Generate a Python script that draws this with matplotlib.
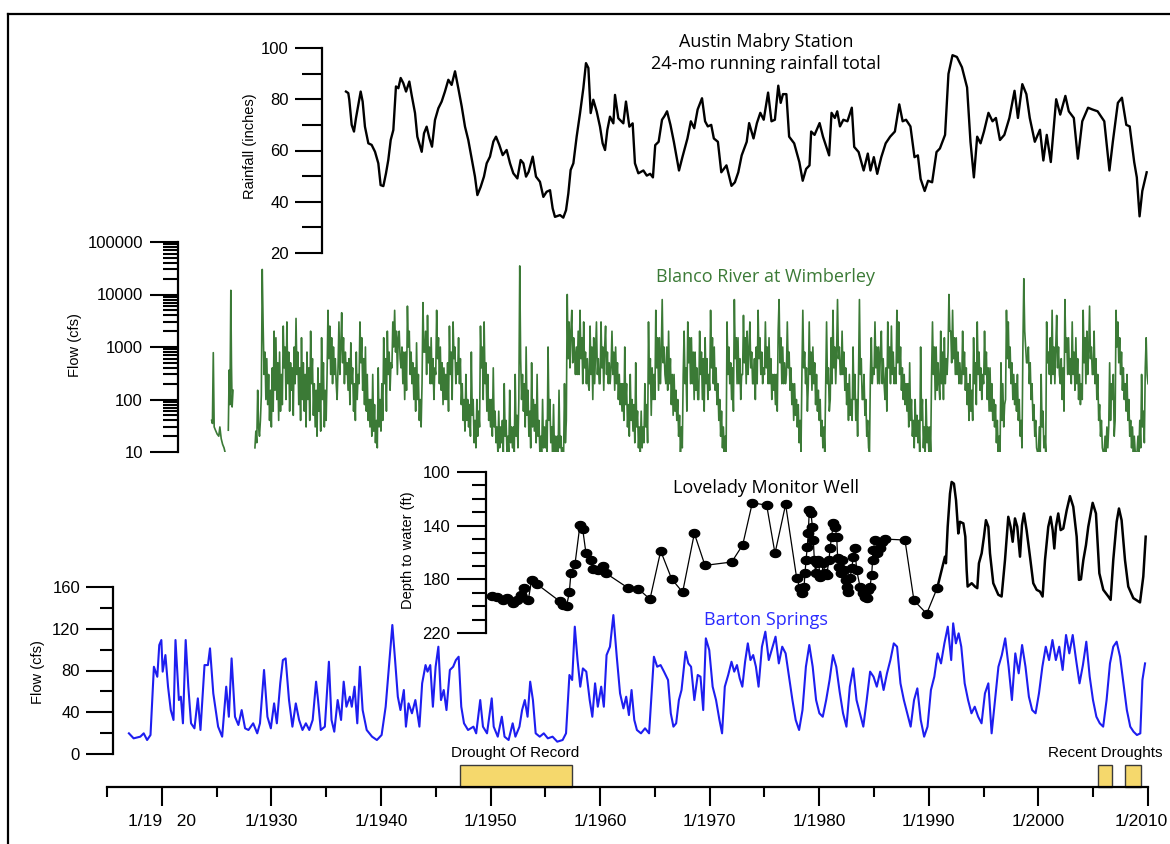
import numpy as np
import matplotlib
matplotlib.use("Agg")
import matplotlib.pyplot as plt
from matplotlib.ticker import FixedLocator, NullFormatter, LogLocator
from matplotlib.path import Path
from matplotlib.transforms import ScaledTranslation

# ---------------- data ----------------
rain_years = [1936.81, 1937.02, 1937.11, 1937.33, 1937.54, 1937.72, 1937.94, 1938.15, 1938.33, 1938.54,
              1938.85, 1939.15, 1939.46, 1939.76, 1939.97, 1940.22, 1940.46, 1940.67, 1940.89, 1941.13,
              1941.37, 1941.59, 1941.80, 1942.04, 1942.29, 1942.59, 1942.80, 1943.11, 1943.32, 1943.50,
              1943.72, 1943.93, 1944.17, 1944.42, 1944.66, 1944.93, 1945.24, 1945.54, 1945.84, 1946.15,
              1946.45, 1946.76, 1947.06, 1947.37, 1947.67, 1947.97, 1948.28, 1948.58, 1948.80, 1949.10,
              1949.40, 1949.65, 1949.95, 1950.26, 1950.50, 1950.80, 1951.11, 1951.47, 1951.78, 1952.08,
              1952.45, 1952.75, 1953.00, 1953.24, 1953.48, 1953.85, 1954.15, 1954.51, 1954.82, 1955.12,
              1955.43, 1955.67, 1955.88, 1956.34, 1956.64, 1956.89, 1957.10, 1957.31, 1957.56, 1957.86,
              1958.17, 1958.47, 1958.71, 1958.93, 1959.14, 1959.38, 1959.69, 1959.99, 1960.23, 1960.45,
              1960.66, 1960.90, 1961.21, 1961.36, 1961.66, 1962.12, 1962.36, 1962.67, 1962.97, 1963.18,
              1963.49, 1963.95, 1964.26, 1964.57, 1964.82, 1965.03, 1965.34, 1965.65, 1965.87, 1966.11,
              1966.42, 1966.73, 1967.20, 1967.51, 1967.97, 1968.28, 1968.59, 1968.90, 1969.30, 1969.58,
              1969.83, 1970.14, 1970.38, 1970.75, 1971.06, 1971.53, 1971.99, 1972.30, 1972.61, 1972.92,
              1973.38, 1973.60, 1974.00, 1974.31, 1974.62, 1974.93, 1975.33, 1975.64, 1975.95, 1976.26,
              1976.48, 1976.69, 1977.00, 1977.25, 1977.71, 1978.18, 1978.49, 1978.80, 1979.11, 1979.26,
              1979.57, 1980.03, 1980.34, 1980.90, 1981.12, 1981.42, 1981.64, 1981.89, 1982.20, 1982.57,
              1982.97, 1983.19, 1983.59, 1984.05, 1984.43, 1984.67, 1984.98, 1985.29, 1985.66, 1986.06,
              1986.47, 1986.90, 1987.30, 1987.61, 1987.92, 1988.32, 1988.69, 1989.00, 1989.25, 1989.62,
              1989.93, 1990.30, 1990.70, 1991.01, 1991.48, 1991.79, 1992.16, 1992.56, 1993.02, 1993.49,
              1993.80, 1994.11, 1994.41, 1994.72, 1995.03, 1995.44, 1995.81, 1996.12, 1996.49, 1996.89,
              1997.35, 1997.82, 1998.13, 1998.53, 1998.90, 1999.21, 1999.67, 2000.14, 2000.45, 2000.76,
              2001.13, 2001.62, 2001.99, 2002.46, 2002.77, 2003.23, 2003.60, 2004.00, 2004.53, 2004.93,
              2005.40, 2006.01, 2006.48, 2006.79, 2007.25, 2007.62, 2008.02, 2008.33, 2008.74, 2008.98,
              2009.23, 2009.48, 2009.88]
rain_inches = [83.0, 82.4, 79.8, 70.0, 67.4, 72.6, 77.8, 83.0, 79.1, 69.3,
               62.8, 62.2, 59.5, 55.0, 46.5, 46.1, 51.1, 56.3, 64.1, 68.0,
               85.0, 84.3, 88.3, 86.3, 83.0, 86.9, 81.7, 74.6, 65.4, 62.8,
               59.5, 66.7, 69.3, 64.8, 61.5, 71.9, 76.5, 79.1, 83.0, 87.6,
               85.6, 90.9, 84.3, 77.2, 69.3, 64.1, 56.9, 49.8, 42.6, 45.8,
               49.8, 55.0, 57.6, 63.5, 65.4, 62.2, 58.2, 60.2, 55.0, 51.1,
               49.1, 56.3, 55.0, 49.8, 51.7, 57.6, 49.8, 47.8, 41.9, 43.9,
               44.5, 37.4, 34.1, 34.8, 33.8, 36.7, 43.2, 52.4, 55.0, 65.4,
               74.6, 84.3, 94.1, 92.2, 74.6, 79.8, 75.2, 69.3, 62.8, 60.2,
               68.0, 73.2, 70.6, 81.7, 72.6, 70.6, 79.1, 69.3, 70.6, 55.0,
               51.1, 52.2, 50.2, 50.9, 49.5, 62.1, 63.4, 72.0, 73.4, 75.3,
               70.0, 63.4, 52.2, 57.4, 64.7, 71.4, 68.7, 76.0, 80.4, 71.4,
               69.4, 70.0, 64.7, 63.4, 51.5, 54.2, 46.2, 47.6, 51.5, 58.1,
               63.4, 70.7, 64.7, 70.7, 74.7, 72.0, 82.6, 71.4, 72.0, 85.3,
               78.6, 82.0, 82.0, 65.4, 62.8, 55.5, 48.2, 52.8, 54.2, 67.4,
               66.1, 70.7, 65.4, 58.1, 74.7, 72.7, 75.3, 69.4, 72.0, 71.4,
               76.7, 61.4, 59.4, 52.2, 58.8, 52.2, 57.4, 50.9, 57.4, 62.8,
               65.4, 67.4, 78.0, 71.4, 72.0, 69.4, 57.4, 58.1, 48.9, 44.2,
               48.2, 47.6, 59.4, 60.8, 66.1, 89.9, 97.2, 96.5, 92.5, 84.6,
               63.4, 49.5, 65.4, 62.8, 67.4, 74.7, 71.4, 72.7, 64.1, 66.1,
               72.7, 83.3, 72.7, 85.9, 82.0, 72.7, 63.4, 68.1, 56.1, 66.1,
               55.5, 80.0, 74.0, 81.3, 75.3, 72.7, 56.8, 71.4, 76.7, 76.0,
               75.3, 71.4, 52.2, 63.4, 78.6, 80.6, 70.0, 69.4, 55.5, 49.5,
               34.3, 44.2, 51.5]

blanco_early_years = [1924.55, 1924.62, 1924.70, 1924.78, 1924.90, 1925.05, 1925.20, 1925.30, 1925.42,
                      1925.55, 1925.68, 1925.77, np.nan, 1926.07, 1926.15, 1926.22, 1926.30, 1926.36,
                      1926.42, 1926.50]
blanco_early_flow = [40, 35, 780, 30, 26, 22, 20, 30, 18, 14, 12, 10, np.nan, 26, 365, 80, 12000, 450,
                     72, 150]

BLANCO_START = 1928.5   # first month of the continuous record; monthly values follow
blanco_flow = [
    12, 25, 15, 150, 30, 20,                                          # 1928 (Jul-Dec)
    40, 120, 30000, 2500, 300, 800, 100, 600, 80, 300, 40, 150,       # 1929
    30, 400, 60, 2000, 150, 1500, 100, 500, 40, 800, 60, 300,         # 1930
    80, 2500, 400, 1000, 100, 3000, 200, 800, 60, 500, 150, 400,      # 1931
    50, 1000, 200, 3500, 300, 800, 80, 400, 40, 1500, 100, 500,       # 1932
    60, 300, 30, 800, 100, 400, 40, 2000, 200, 600, 50, 200,          # 1933
    30, 150, 20, 400, 60, 200, 25, 1500, 100, 500, 30, 150,           # 1934
    40, 300, 5000, 600, 2500, 300, 1500, 200, 1000, 300, 600, 200,    # 1935
    100, 400, 3000, 300, 1000, 4500, 500, 1500, 200, 800, 300, 500,   # 1936
    150, 600, 80, 1200, 200, 400, 60, 200, 40, 800, 100, 300,         # 1937
    200, 3000, 500, 1500, 150, 600, 80, 1000, 60, 300, 40, 100,       # 1938
    30, 100, 20, 300, 25, 80, 15, 40, 12, 400, 30, 100,               # 1939
    25, 200, 40, 1500, 200, 600, 60, 2000, 300, 800, 150, 500,        # 1940
    400, 3000, 1000, 5000, 800, 2000, 300, 1500, 2000, 600, 400, 1000,  # 1941
    200, 800, 100, 800, 150, 6000, 1000, 2000, 300, 800, 200, 500,    # 1942
    100, 400, 60, 1200, 100, 300, 40, 100, 30, 200, 7000, 800,        # 1943
    800, 2000, 300, 4000, 500, 1000, 200, 1500, 200, 600, 100, 400,   # 1944
    300, 5000, 600, 1500, 200, 1000, 150, 500, 80, 400, 100, 300,     # 1945
    100, 500, 60, 2500, 300, 800, 100, 3000, 600, 1000, 200, 500,     # 1946
    300, 1500, 200, 600, 80, 200, 40, 100, 25, 300, 40, 100,          # 1947
    30, 80, 20, 800, 50, 100, 15, 40, 12, 100, 20, 60,                # 1948
    30, 2500, 400, 1000, 100, 3000, 200, 500, 60, 300, 40, 100,       # 1949
    30, 100, 20, 400, 30, 60, 15, 30, 10, 60, 12, 30,                 # 1950
    15, 40, 10, 200, 20, 40, 10, 20, 8, 150, 15, 30,                  # 1951
    12, 30, 10, 300, 20, 50, 12, 100, 35000, 600, 100, 300,           # 1952
    60, 200, 30, 1000, 50, 150, 20, 60, 12, 500, 30, 100,             # 1953
    25, 80, 15, 300, 20, 40, 10, 20, 8, 100, 12, 30,                  # 1954
    12, 40, 10, 1000, 40, 100, 15, 30, 10, 80, 10, 20,                # 1955
    10, 20, 8, 150, 12, 20, 8, 12, 8, 200, 15, 40,                    # 1956
    10000, 600, 3000, 400, 2000, 5000, 500, 1500, 800, 300, 1000, 300,  # 1957
    2000, 300, 5000, 600, 1500, 200, 3000, 400, 800, 200, 600, 200,   # 1958
    150, 2500, 300, 1000, 100, 1500, 200, 800, 3000, 300, 600, 200,   # 1959
    200, 3000, 400, 1000, 150, 1000, 2500, 300, 800, 200, 500, 200,   # 1960
    400, 2000, 300, 800, 150, 1000, 200, 500, 100, 300, 80, 200,      # 1961
    60, 200, 40, 1000, 80, 200, 30, 80, 20, 300, 40, 100,             # 1962
    25, 80, 15, 500, 30, 60, 12, 30, 10, 60, 12, 30,                  # 1963
    15, 200, 30, 80, 15, 3000, 200, 600, 50, 400, 100, 300,           # 1964
    100, 5000, 400, 1500, 150, 1500, 200, 800, 8000, 500, 1000, 300,  # 1965
    200, 1000, 150, 2000, 200, 600, 80, 300, 50, 300, 60, 150,        # 1966
    40, 100, 20, 50, 10, 30, 12, 300, 2000, 200, 400, 60,             # 1967
    3000, 500, 1500, 200, 1500, 200, 800, 100, 800, 150, 400, 100,    # 1968
    100, 2000, 300, 800, 100, 600, 60, 1500, 200, 600, 100, 300,      # 1969
    150, 5000, 400, 1500, 200, 1000, 150, 400, 80, 200, 40, 100,      # 1970
    20, 60, 12, 30, 10, 20, 10, 3000, 300, 1000, 200, 500,            # 1971
    100, 400, 60, 8000, 600, 1500, 200, 1500, 200, 600, 100, 300,     # 1972
    300, 4000, 500, 1500, 200, 2000, 300, 800, 3000, 400, 800, 200,   # 1973
    200, 600, 100, 1000, 200, 5000, 600, 1500, 300, 800, 200, 400,    # 1974
    300, 3000, 400, 1000, 200, 1500, 200, 600, 100, 300, 150, 300,    # 1975
    80, 300, 60, 2000, 8000, 500, 1500, 200, 1000, 200, 500, 200,     # 1976
    300, 3000, 400, 800, 150, 400, 80, 200, 40, 200, 50, 100,         # 1977
    30, 80, 15, 40, 10, 300, 5000, 400, 800, 200, 400, 60,            # 1978
    200, 3000, 300, 800, 150, 1000, 200, 500, 80, 300, 60, 150,       # 1979
    40, 100, 20, 40, 12, 30, 10, 200, 3000, 200, 400, 60,             # 1980
    100, 1500, 200, 5000, 400, 1000, 200, 800, 8000, 600, 1000, 300,  # 1981
    300, 2000, 300, 800, 150, 400, 80, 200, 40, 300, 50, 100,         # 1982
    40, 1000, 100, 300, 40, 100, 20, 300, 8000, 300, 600, 100,        # 1983
    100, 300, 50, 100, 20, 40, 12, 10, 300, 1500, 200, 400,           # 1984
    300, 3000, 400, 1000, 200, 1000, 200, 800, 2000, 200, 600, 200,   # 1985
    100, 400, 60, 3000, 400, 1000, 200, 2500, 300, 800, 200, 400,     # 1986
    200, 5000, 500, 3000, 300, 1000, 150, 400, 100, 300, 80, 200,     # 1987
    60, 200, 30, 500, 40, 100, 20, 40, 12, 100, 20, 50,               # 1988
    15, 40, 10, 1000, 40, 100, 12, 30, 10, 100, 15, 30,               # 1989
    10, 30, 10, 300, 3000, 300, 1000, 100, 1000, 150, 500, 200,       # 1990
    100, 2000, 200, 800, 100, 1500, 200, 600, 300, 800, 10000, 2000,  # 1991
    2000, 500, 5000, 600, 1500, 300, 1500, 300, 800, 200, 500, 200,   # 1992
    200, 2000, 300, 800, 150, 400, 80, 200, 40, 300, 60, 150,         # 1993
    40, 1500, 200, 500, 80, 3000, 300, 800, 150, 400, 100, 300,       # 1994
    200, 2000, 300, 800, 100, 400, 60, 400, 60, 200, 40, 100,         # 1995
    30, 80, 15, 40, 10, 20, 10, 500, 40, 200, 30, 80,                 # 1996
    100, 5000, 600, 3000, 400, 1000, 200, 500, 100, 300, 80, 200,     # 1997
    60, 300, 40, 100, 20, 40, 12, 1000, 20000, 2000, 1000, 500,       # 1998
    500, 1000, 200, 500, 100, 200, 40, 80, 20, 40, 12, 10,            # 1999
    10, 30, 10, 300, 30, 60, 12, 20, 10, 3000, 500, 800,              # 2000
    300, 1500, 200, 5000, 300, 1000, 200, 1000, 4000, 400, 1000, 300,  # 2001
    200, 600, 100, 400, 60, 8000, 800, 1500, 300, 1500, 300, 600,     # 2002
    200, 3000, 300, 800, 150, 1500, 200, 600, 100, 300, 80, 200,      # 2003
    100, 5000, 500, 1500, 200, 2000, 300, 800, 6000, 600, 1000, 300,  # 2004
    300, 2000, 200, 600, 100, 300, 40, 80, 20, 40, 12, 10,            # 2005
    10, 20, 10, 30, 12, 30, 500, 40, 200, 100, 300, 20,               # 2006
    40, 5000, 1000, 3000, 500, 1500, 300, 800, 150, 400, 100, 200,    # 2007
    60, 300, 40, 100, 20, 40, 12, 30, 10, 20, 10, 10,                 # 2008
    10, 20, 10, 40, 12, 300, 30, 60, 15, 400, 1500, 300,              # 2009
    200,                                                              # 2010
]

well_manual_years = [1950.11, 1950.56, 1951.10, 1951.53, 1952.02, 1952.38, 1952.75, 1953.08, 1953.45,
                     1953.75, 1954.21, 1956.34, 1956.58, 1956.95, 1957.19, 1957.34, 1957.71, 1958.16,
                     1958.41, 1958.71, 1959.17, 1959.32, 1959.84, 1960.24, 1960.54, 1962.58, 1963.49,
                     1964.55, 1965.53, 1966.53, 1967.53, 1968.60, 1969.57, 1972.01, 1973.01, 1973.89,
                     1975.20, 1975.96, 1976.93, 1977.94, 1978.24, 1978.39, 1978.61, 1978.70, 1978.79,
                     1978.91, 1979.00, 1979.09, 1979.25, 1979.37, 1979.46, 1979.55, 1979.67, 1979.76,
                     1979.92, 1980.07, 1980.22, 1980.37, 1980.52, 1980.68, 1980.89, 1980.98, 1981.13,
                     1981.28, 1981.44, 1981.59, 1981.68, 1981.83, 1981.95, 1982.11, 1982.26, 1982.44,
                     1982.56, 1982.65, 1982.81, 1982.96, 1983.11, 1983.26, 1983.41, 1983.72, 1984.02,
                     1984.17, 1984.33, 1984.48, 1984.63, 1984.78, 1984.87, 1984.93, 1985.09, 1985.30,
                     1985.54, 1985.69, 1986.00, 1987.82, 1988.64, 1989.80, 1990.77]
well_manual_depth = [192.3, 193.3, 195.3, 194.0, 197.7, 195.3, 191.5, 186.1, 195.3,
                     180.4, 183.4, 196.5, 199.0, 199.7, 189.6, 175.0, 168.5, 139.6,
                     142.5, 160.6, 165.6, 172.5, 173.0, 170.0, 175.5, 186.6, 187.1,
                     194.8, 158.9, 179.7, 189.6, 145.8, 169.6, 167.1, 154.4, 123.0,
                     124.7, 160.6, 124.2, 179.2, 186.6, 190.3, 185.4, 175.5, 165.6,
                     155.7, 145.3, 128.5, 130.9, 140.8, 150.7, 165.6, 175.5, 168.1,
                     165.6, 178.0, 176.7, 168.1, 175.5, 176.7, 165.6, 157.0, 148.2,
                     138.3, 140.8, 148.2, 164.4, 170.5, 175.5, 165.6, 173.0, 180.4,
                     185.4, 189.1, 179.2, 171.8, 163.1, 156.9, 173.0, 185.4, 190.3,
                     192.8, 194.0, 187.8, 185.4, 176.7, 165.6, 158.2, 150.7, 160.6,
                     156.9, 152.0, 150.0, 150.7, 195.7, 205.6, 186.3]

well_recorder_years = [1990.77, 1991.47, 1991.56, 1991.72, 1991.93, 1992.08, 1992.29, 1992.48, 1992.69,
                       1992.84, 1993.15, 1993.33, 1993.45, 1993.54, 1993.91, 1994.21, 1994.42, 1994.57,
                       1994.82, 1995.03, 1995.21, 1995.43, 1995.58, 1995.88, 1996.34, 1996.64, 1996.95,
                       1997.25, 1997.46, 1997.65, 1997.86, 1998.07, 1998.32, 1998.50, 1998.68, 1998.92,
                       1999.23, 1999.53, 1999.84, 2000.14, 2000.38, 2000.60, 2000.90, 2001.11, 2001.30,
                       2001.45, 2001.60, 2001.81, 2002.03, 2002.27, 2002.58, 2002.88, 2003.18, 2003.49,
                       2003.70, 2003.88, 2004.10, 2004.34, 2004.55, 2004.95, 2005.25, 2005.56, 2005.92,
                       2006.38, 2006.59, 2006.83, 2007.14, 2007.35, 2007.59, 2007.90, 2008.20, 2008.66,
                       2009.27, 2009.57, 2009.79]
well_recorder_depth = [186.3, 163.1, 168.0, 140.8, 116.1, 107.4, 108.7, 121.0, 145.8,
                       137.1, 138.3, 148.2, 173.0, 185.4, 182.9, 185.4, 186.6, 168.0,
                       160.6, 148.2, 135.9, 140.8, 160.6, 182.9, 191.5, 192.8, 165.6,
                       133.4, 140.8, 152.0, 134.6, 140.8, 163.1, 139.6, 130.9, 143.3,
                       163.1, 182.9, 187.8, 189.1, 192.8, 165.6, 140.8, 133.4, 143.3,
                       157.0, 140.8, 130.9, 143.3, 142.1, 128.5, 118.0, 125.9, 148.2,
                       180.4, 180.0, 165.6, 154.4, 140.8, 123.0, 130.9, 175.5, 187.8,
                       192.8, 195.3, 165.6, 137.1, 127.2, 135.9, 165.6, 185.4, 194.0,
                       197.2, 177.9, 148.2]

barton_years = [1917.00, 1917.43, 1918.04, 1918.35, 1918.66, 1918.97, 1919.28, 1919.59, 1919.77, 1919.96,
                1920.08, 1920.33, 1920.57, 1920.82, 1921.07, 1921.25, 1921.56, 1921.74, 1921.93, 1922.18,
                1922.42, 1922.67, 1922.98, 1923.29, 1923.53, 1923.90, 1924.21, 1924.40, 1924.70, 1925.14,
                1925.51, 1925.88, 1926.12, 1926.37, 1926.68, 1926.99, 1927.29, 1927.60, 1927.91, 1928.34,
                1928.71, 1928.96, 1929.33, 1929.64, 1929.95, 1930.25, 1930.50, 1930.81, 1931.05, 1931.30,
                1931.61, 1931.92, 1932.23, 1932.53, 1932.84, 1933.15, 1933.46, 1933.77, 1934.08, 1934.26,
                1934.51, 1934.88, 1935.25, 1935.49, 1935.74, 1936.05, 1936.36, 1936.60, 1936.85, 1937.16,
                1937.34, 1937.59, 1937.84, 1938.08, 1938.33, 1938.70, 1939.19, 1939.63, 1940.06, 1940.43,
                1940.67, 1941.04, 1941.29, 1941.54, 1941.78, 1942.09, 1942.28, 1942.52, 1942.83, 1943.14,
                1943.51, 1943.76, 1944.07, 1944.25, 1944.50, 1944.74, 1944.99, 1945.24, 1945.48, 1945.73,
                1945.98, 1946.29, 1946.59, 1946.84, 1947.09, 1947.33, 1947.58, 1947.95, 1948.44, 1948.69,
                1949.06, 1949.31, 1949.68, 1950.11, 1950.29, 1950.66, 1951.03, 1951.28, 1951.65, 1952.02,
                1952.27, 1952.64, 1952.88, 1953.13, 1953.38, 1953.62, 1953.87, 1954.12, 1954.49, 1954.86,
                1955.23, 1955.66, 1956.09, 1956.58, 1956.89, 1957.20, 1957.45, 1957.69, 1957.94, 1958.19,
                1958.43, 1958.74, 1959.05, 1959.29, 1959.54, 1959.79, 1960.10, 1960.34, 1960.59, 1960.90,
                1961.21, 1961.52, 1961.82, 1962.13, 1962.38, 1962.63, 1962.87, 1963.12, 1963.36, 1963.73,
                1964.10, 1964.47, 1964.91, 1965.21, 1965.52, 1965.83, 1966.20, 1966.45, 1966.69, 1966.94,
                1967.19, 1967.43, 1967.80, 1968.05, 1968.30, 1968.60, 1968.91, 1969.16, 1969.41, 1969.65,
                1969.96, 1970.27, 1970.58, 1970.89, 1971.13, 1971.38, 1971.69, 1971.99, 1972.24, 1972.49,
                1972.74, 1972.98, 1973.23, 1973.48, 1973.72, 1973.97, 1974.22, 1974.46, 1974.77, 1975.08,
                1975.39, 1975.70, 1976.01, 1976.31, 1976.62, 1976.93, 1977.24, 1977.55, 1977.85, 1978.16,
                1978.47, 1978.78, 1979.09, 1979.40, 1979.71, 1980.01, 1980.32, 1980.63, 1980.94, 1981.25,
                1981.55, 1981.86, 1982.17, 1982.48, 1982.79, 1983.10, 1983.40, 1983.71, 1984.02, 1984.33,
                1984.64, 1984.95, 1985.25, 1985.56, 1985.87, 1986.18, 1986.49, 1986.80, 1987.10, 1987.41,
                1987.72, 1988.03, 1988.34, 1988.65, 1988.95, 1989.26, 1989.57, 1989.88, 1990.19, 1990.50,
                1990.80, 1991.11, 1991.42, 1991.73, 1992.04, 1992.22, 1992.47, 1992.72, 1992.96, 1993.27,
                1993.58, 1993.89, 1994.19, 1994.50, 1994.81, 1995.12, 1995.43, 1995.73, 1996.04, 1996.35,
                1996.66, 1996.97, 1997.28, 1997.58, 1997.89, 1998.20, 1998.51, 1998.82, 1999.13, 1999.43,
                1999.74, 2000.05, 2000.36, 2000.67, 2000.97, 2001.28, 2001.59, 2001.90, 2002.21, 2002.52,
                2002.82, 2003.13, 2003.44, 2003.75, 2004.06, 2004.37, 2004.68, 2004.98, 2005.29, 2005.60,
                2005.91, 2006.22, 2006.53, 2006.83, 2007.14, 2007.45, 2007.76, 2008.07, 2008.38, 2008.68,
                2008.99, 2009.30, 2009.49, 2009.73]
barton_cfs = [19.8, 15.0, 16.6, 19.8, 13.4, 18.2, 83.6, 74.0, 104.4, 109.2,
              78.9, 94.8, 64.5, 42.1, 32.6, 109.2, 51.7, 54.9, 29.4, 109.2,
              64.5, 29.4, 24.6, 53.3, 23.0, 85.2, 85.2, 101.2, 58.1, 26.2,
              16.6, 64.5, 35.7, 91.6, 35.7, 27.8, 42.1, 24.6, 23.0, 29.4,
              19.8, 29.4, 80.5, 35.7, 24.6, 48.5, 29.4, 67.7, 90.0, 91.6,
              51.7, 26.2, 48.5, 32.6, 23.0, 29.4, 23.0, 32.6, 69.3, 51.7,
              23.0, 26.2, 88.4, 32.6, 21.4, 51.7, 32.6, 69.3, 45.3, 54.9,
              45.3, 64.5, 29.4, 83.6, 42.1, 23.0, 16.6, 13.4, 18.2, 45.3,
              75.7, 123.6, 90.0, 54.9, 42.1, 61.3, 26.2, 48.5, 39.0, 51.7,
              26.2, 67.7, 85.2, 78.9, 85.2, 45.3, 83.6, 102.8, 51.7, 61.3,
              42.1, 80.5, 83.6, 90.0, 93.2, 45.3, 29.4, 23.0, 26.2, 19.8,
              51.7, 26.2, 19.8, 53.3, 26.2, 16.6, 35.7, 16.6, 13.4, 29.4,
              16.6, 26.2, 42.1, 51.7, 35.7, 69.3, 51.7, 19.8, 16.6, 19.8,
              15.0, 16.6, 11.8, 13.4, 19.8, 75.7, 70.9, 122.0, 90.0, 64.5,
              82.0, 78.9, 51.7, 35.7, 67.7, 45.3, 64.5, 45.3, 94.8, 102.8,
              133.1, 93.2, 58.1, 43.7, 54.9, 37.3, 61.3, 32.6, 23.0, 19.8,
              24.6, 19.8, 93.2, 83.6, 85.2, 78.9, 70.9, 39.0, 26.2, 29.4,
              51.7, 61.3, 98.0, 86.8, 83.6, 51.7, 75.7, 74.1, 42.1, 110.8,
              99.6, 64.5, 51.7, 32.6, 19.8, 64.5, 75.7, 88.4, 78.9, 85.2,
              72.5, 64.5, 88.4, 106.0, 90.0, 94.8, 83.6, 64.5, 102.8, 117.2,
              90.0, 101.2, 112.4, 86.8, 102.8, 96.4, 74.1, 51.7, 32.6, 23.0,
              42.1, 83.6, 104.4, 83.6, 51.7, 39.0, 35.7, 51.7, 70.9, 94.8,
              83.6, 59.7, 39.0, 26.2, 64.5, 82.0, 51.7, 39.0, 26.2, 51.7,
              78.9, 74.1, 64.5, 78.9, 61.3, 77.3, 90.0, 106.0, 102.8, 67.7,
              51.7, 39.0, 26.2, 51.7, 62.9, 32.6, 16.6, 26.2, 61.3, 74.1,
              96.4, 86.8, 106.0, 122.0, 90.0, 125.2, 106.0, 115.6, 102.8, 67.7,
              51.7, 39.0, 45.3, 35.7, 29.4, 58.1, 67.7, 19.8, 51.7, 83.6,
              94.8, 110.8, 83.6, 51.7, 96.4, 77.3, 104.4, 83.6, 54.9, 42.1,
              39.0, 58.1, 83.6, 102.8, 90.0, 109.2, 90.0, 102.8, 80.5, 114.0,
              96.4, 114.0, 90.0, 67.7, 85.2, 107.6, 74.1, 51.7, 35.7, 29.4,
              26.2, 51.7, 86.8, 102.8, 107.6, 93.2, 67.7, 42.1, 26.2, 21.4,
              18.2, 19.8, 70.9, 86.8]

drought_start = [1947.2, 2005.4, 2007.9]
drought_end = [1957.4, 2006.7, 2009.4]
drought_labels = ["Drought Of Record", "Recent Droughts"]

year_ticks = [1920, 1930, 1940, 1950, 1960, 1970, 1980, 1990, 2000, 2010]
year_labels = ["1/19   20", "1/1930", "1/1940", "1/1950", "1/1960", "1/1970",
               "1/1980", "1/1990", "1/2000", "1/2010"]
year_minor = [1915, 1925, 1935, 1945, 1955, 1965, 1975, 1985, 1995, 2005]

# ---------------- layout helpers ----------------
plt.rcParams['font.family'] = ['Liberation Sans', 'DejaVu Sans']
WPX, HPX = 1170, 844
PT = 0.72  # points per pixel at dpi 100
fig = plt.figure(figsize=(WPX / 100, HPX / 100), dpi=100)
fig.patch.set_facecolor('white')

AX_L, AX_R = 107, 1148
X0, X1 = 1915, 2010


def fx(x):
    return x / WPX


def fy(y):
    return 1 - y / HPX


def panel(top, bottom, spine_px):
    ax = fig.add_axes([fx(AX_L), fy(bottom), (AX_R - AX_L) / WPX, (bottom - top) / HPX])
    ax.patch.set_visible(False)
    for s in ['top', 'right', 'bottom']:
        ax.spines[s].set_visible(False)
    ax.spines['left'].set_position(('axes', (spine_px - AX_L) / (AX_R - AX_L)))
    ax.spines['left'].set_linewidth(1.6)
    ax.set_xlim(X0, X1)
    ax.set_xticks([])
    return ax


def ticks(ax, major_len, minor_len, pad):
    ax.tick_params(axis='y', which='major', length=major_len * PT, width=1.5, pad=pad * PT,
                   labelsize=12, colors='black')
    ax.tick_params(axis='y', which='minor', length=minor_len * PT, width=1.5)


TFONT = ['Open Sans', 'DejaVu Sans']
TSIZE = 13

# frame lines
fig.add_artist(plt.Line2D([fx(7.5), fx(7.5)], [fy(14), 0], color='black', lw=1.6))
fig.add_artist(plt.Line2D([fx(7.5), 1], [fy(14), fy(14)], color='black', lw=1.6))

# ---------------- rainfall ----------------
ax_r = panel(48, 253, 322)
ax_r.plot(rain_years, rain_inches, color='black', lw=1.7)
ax_r.set_ylim(20, 100)
ax_r.set_yticks([20, 40, 60, 80, 100])
ax_r.yaxis.set_minor_locator(FixedLocator([30, 50, 70, 90]))
ticks(ax_r, 27, 20, 6)
fig.text(fx(250), fy(146), "Rainfall (inches)", rotation=90, ha='center', va='center', fontsize=10.5)
fig.text(fx(766), fy(42), "Austin Mabry Station", ha='center', va='center', fontsize=TSIZE, family=TFONT)
fig.text(fx(766), fy(64), "24-mo running rainfall total", ha='center', va='center', fontsize=TSIZE,
         family=TFONT)

# ---------------- Blanco ----------------
GREEN = '#3B7A36'
ax_b = panel(242, 452, 178)
ax_b.set_yscale('log')
blanco_years = BLANCO_START + np.arange(len(blanco_flow)) / 12.0
ax_b.plot(blanco_early_years, blanco_early_flow, color=GREEN, lw=1.2)
ax_b.plot(blanco_years, blanco_flow, color=GREEN, lw=1.2)
ax_b.set_ylim(10, 100000)
ax_b.set_yticks([10, 100, 1000, 10000, 100000])
ax_b.set_yticklabels(["10", "100", "1000", "10000", "100000"])
ax_b.yaxis.set_minor_locator(LogLocator(base=10, subs=np.arange(2, 10)))
ax_b.yaxis.set_minor_formatter(NullFormatter())
ticks(ax_b, 28, 15, 7)
fig.text(fx(75), fy(345), "Flow (cfs)", rotation=90, ha='center', va='center', fontsize=10.5)
fig.text(fx(766), fy(277), "Blanco River at Wimberley", ha='center', va='center', fontsize=TSIZE,
         family=TFONT, color=GREEN)

# ---------------- Lovelady well ----------------
theta = np.linspace(0, 2 * np.pi, 40)
ellipse = Path(np.column_stack([1.3 * np.cos(theta), np.sin(theta)]), closed=True)
ax_w = panel(472, 633, 486)
ax_w.plot(well_manual_years, well_manual_depth, color='black', lw=0.9, marker=ellipse, ms=7.5,
          mfc='black', mec='black')
ax_w.plot(well_recorder_years, well_recorder_depth, color='black', lw=1.8)
ax_w.set_ylim(220, 100)
ax_w.set_yticks([100, 140, 180, 220])
ax_w.yaxis.set_minor_locator(FixedLocator([110, 120, 130, 150, 160, 170, 190, 200, 210]))
ticks(ax_w, 29, 14, 7)
fig.text(fx(408), fy(550), "Depth to water (ft)", rotation=90, ha='center', va='center', fontsize=10.5)
fig.text(fx(766), fy(488), "Lovelady Monitor Well", ha='center', va='center', fontsize=TSIZE,
         family=TFONT)

# ---------------- Barton Springs ----------------
ax_s = panel(587, 754, 113)
ax_s.plot(barton_years, barton_cfs, color='#1E1EF0', lw=1.5)
ax_s.set_ylim(0, 160)
ax_s.set_yticks([0, 40, 80, 120, 160])
ax_s.yaxis.set_minor_locator(FixedLocator([20, 60, 100, 140]))
ticks(ax_s, 27, 13, 6)
fig.text(fx(38), fy(672), "Flow (cfs)", rotation=90, ha='center', va='center', fontsize=10.5)
fig.text(fx(766), fy(620), "Barton Springs", ha='center', va='center', fontsize=TSIZE,
         family=TFONT, color='#2B2BFF')

# ---------------- time axis & droughts ----------------
ax_t = fig.add_axes([fx(AX_L), fy(787), (AX_R - AX_L) / WPX, (787 - 760) / HPX])
ax_t.patch.set_visible(False)
for s in ['top', 'right', 'left']:
    ax_t.spines[s].set_visible(False)
ax_t.spines['bottom'].set_linewidth(1.6)
ax_t.set_xlim(X0, X1)
ax_t.set_ylim(0, 27)
ax_t.set_yticks([])
ax_t.set_xticks(year_ticks)
ax_t.set_xticklabels(year_labels)
ax_t.xaxis.set_minor_locator(FixedLocator(year_minor))
ax_t.tick_params(axis='x', which='major', length=19 * PT, width=1.5, labelsize=12.5, pad=6)
ax_t.tick_params(axis='x', which='minor', length=10 * PT, width=1.5)
last = ax_t.get_xticklabels()[-1]
last.set_transform(last.get_transform() + ScaledTranslation(-7 / 100, 0, fig.dpi_scale_trans))
widths = [e - s for s, e in zip(drought_start, drought_end)]
ax_t.bar(drought_start, [22] * len(drought_start), width=widths, align='edge',
         color='#F5D86C', edgecolor='#3A3A3A', lw=1.0, clip_on=False)
fig.text(fx(515), fy(753), drought_labels[0], ha='center', va='center', fontsize=11)
fig.text(fx(1105), fy(753), drought_labels[1], ha='center', va='center', fontsize=11)

fig.savefig("out.png", dpi=100)
